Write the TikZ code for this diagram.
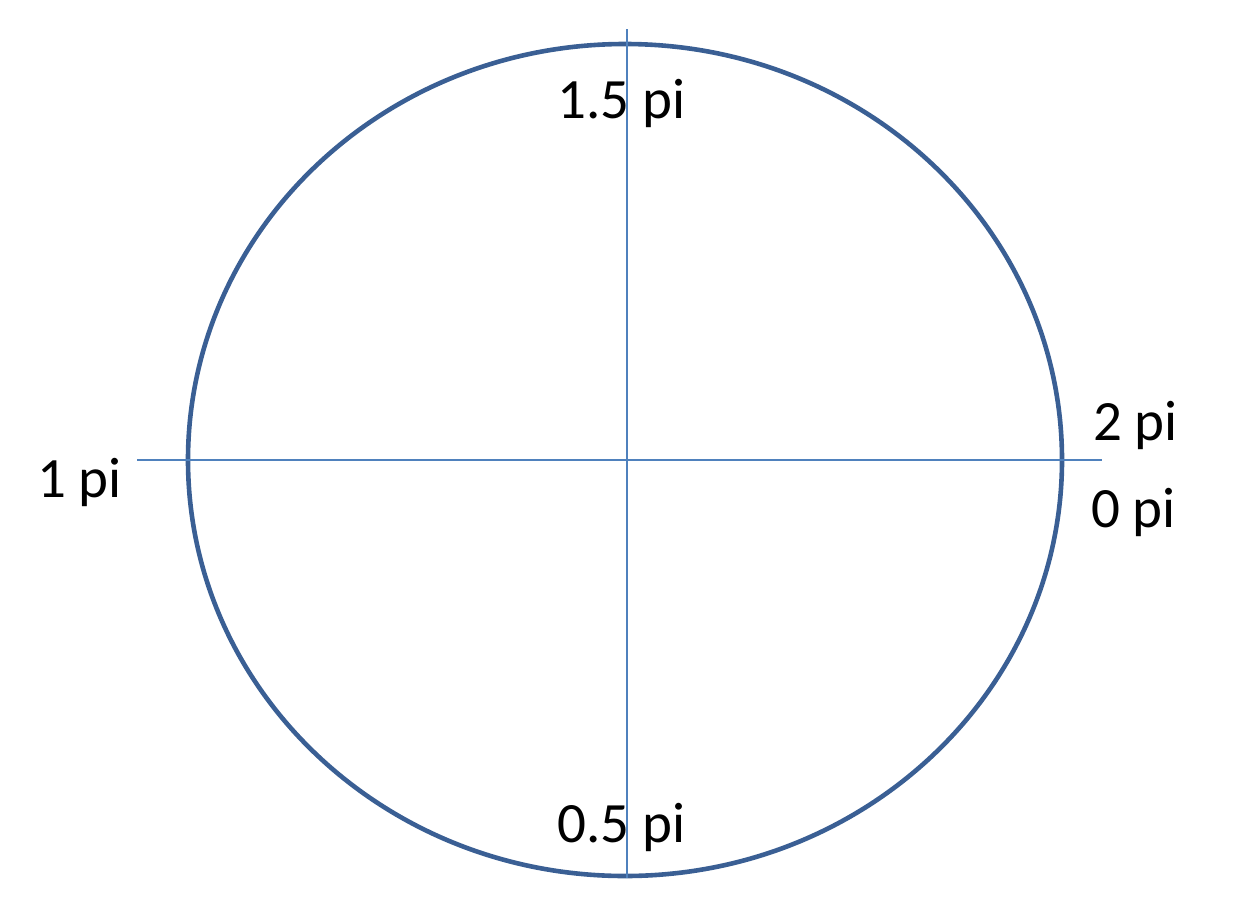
\documentclass[tikz,border=0pt]{standalone}
\usepackage{fontspec}
\setmainfont{Carlito}
\definecolor{ringblue}{HTML}{3A5F94}
\definecolor{axisblue}{HTML}{4F81BD}
\tikzset{
  ring/.style={draw=ringblue, line width=4.6pt},
  axis/.style={draw=axisblue, line width=1.8pt},
  lbl/.style={anchor=base west, inner sep=0pt, font=\fontsize{57}{60}\selectfont, text=black}
}
\begin{document}
\begin{tikzpicture}[x=1pt,y=-1pt]
\useasboundingbox (0,0) rectangle (1238,900);
\coordinate (c) at (625,460);
\coordinate (hl) at (137,460);
\coordinate (hr) at (1102,460);
\coordinate (vt) at (627,29);
\coordinate (vb) at (627,878);
\draw[ring] (c) ellipse [x radius=437, y radius=416];
\draw[axis] (hl) -- (hr);
\draw[axis] (vt) -- (vb);
\node[lbl] (top) at (557,118) {1.5 pi};
\node[lbl] (bot) at (557,842) {0.5 pi};
\node[lbl] (left) at (37,497) {1 pi};
\node[lbl] (two) at (1093,440) {2 pi};
\node[lbl] (zero) at (1091,527) {0 pi};
\end{tikzpicture}
\end{document}
